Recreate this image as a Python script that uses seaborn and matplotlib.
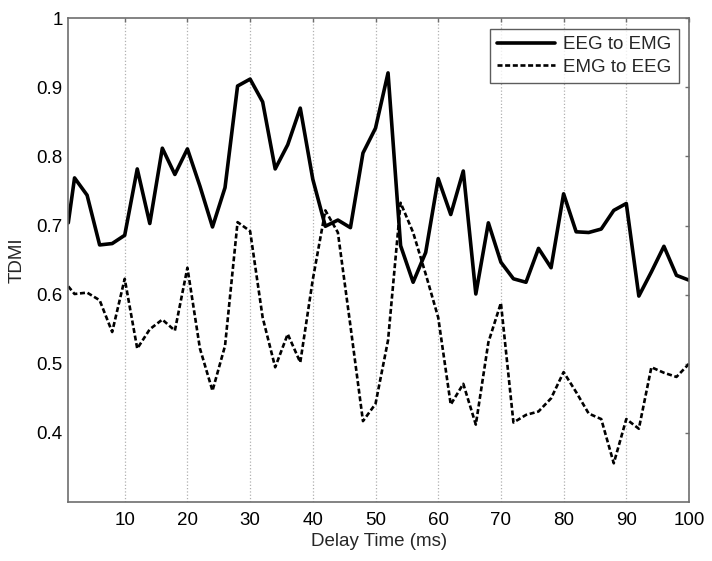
import matplotlib
matplotlib.use("Agg")
import matplotlib.pyplot as plt
import numpy as np
import pandas as pd
import seaborn as sns

# delay times (ms)
delay = [1] + list(range(2, 101, 2))

eeg_to_emg = [0.704, 0.769, 0.744, 0.672, 0.674, 0.686, 0.782, 0.703, 0.812, 0.774,
              0.811, 0.757, 0.698, 0.755, 0.902, 0.912, 0.879, 0.782, 0.817, 0.870,
              0.767, 0.699, 0.708, 0.697, 0.805, 0.841, 0.921, 0.671, 0.618, 0.661,
              0.768, 0.716, 0.779, 0.601, 0.704, 0.647, 0.623, 0.618, 0.667, 0.639,
              0.746, 0.691, 0.690, 0.695, 0.722, 0.732, 0.598, 0.633, 0.670, 0.628,
              0.621]

emg_to_eeg = [0.612, 0.601, 0.603, 0.592, 0.546, 0.623, 0.522, 0.550, 0.564, 0.548,
              0.639, 0.522, 0.461, 0.526, 0.705, 0.692, 0.567, 0.495, 0.543, 0.502,
              0.622, 0.722, 0.690, 0.555, 0.417, 0.442, 0.534, 0.733, 0.690, 0.630,
              0.567, 0.441, 0.471, 0.412, 0.531, 0.588, 0.415, 0.426, 0.431, 0.450,
              0.488, 0.459, 0.428, 0.420, 0.356, 0.420, 0.406, 0.495, 0.487, 0.481,
              0.500]

df = pd.DataFrame({"delay": delay, "EEG to EMG": eeg_to_emg, "EMG to EEG": emg_to_eeg})

sns.set_style("white")
plt.rcParams['font.family'] = ['Liberation Sans', 'DejaVu Sans']

fig = plt.figure(figsize=(7.12, 5.61), dpi=100)
ax = fig.add_axes([0.0959, 0.1052, 0.9677 - 0.0959, 0.9674 - 0.1052])

sns.lineplot(data=df, x="delay", y="EEG to EMG", ax=ax, color="black",
             linewidth=2.6, label="EEG to EMG")
sns.lineplot(data=df, x="delay", y="EMG to EEG", ax=ax, color="black",
             linewidth=1.9, linestyle=(0, (1.9, 1.0)), label="EMG to EEG")

ax.set_xlim(1, 100)
ax.set_ylim(0.3, 1.0)
ax.set_xticks(range(10, 101, 10))
ax.set_yticks([0.4, 0.5, 0.6, 0.7, 0.8, 0.9, 1.0])
ax.set_yticklabels(["0.4", "0.5", "0.6", "0.7", "0.8", "0.9", "1"])

ax.xaxis.grid(True, color="#b0b0b0", linestyle=":", linewidth=0.9)
ax.yaxis.grid(False)

for s in ax.spines.values():
    s.set_color("#6e6e6e")
    s.set_linewidth(1.2)

ax.tick_params(direction="in", length=3, width=1, colors="#6e6e6e",
               labelcolor="black", labelsize=13.5, top=True, right=True)
ax.tick_params(axis="x", pad=7)
ax.tick_params(axis="y", pad=4)

ax.set_xlabel("Delay Time (ms)", fontsize=13.5, labelpad=3)
ax.set_ylabel("TDMI", fontsize=13.5, labelpad=8)

leg = ax.legend(loc="upper right", fontsize=13.5, frameon=True, fancybox=False,
                borderaxespad=0.55, handlelength=3.1, borderpad=0.4,
                labelspacing=0.3, handletextpad=0.4)
leg.get_frame().set_edgecolor("#333333")
leg.get_frame().set_linewidth(1.0)

fig.savefig("out.png", dpi=100)
